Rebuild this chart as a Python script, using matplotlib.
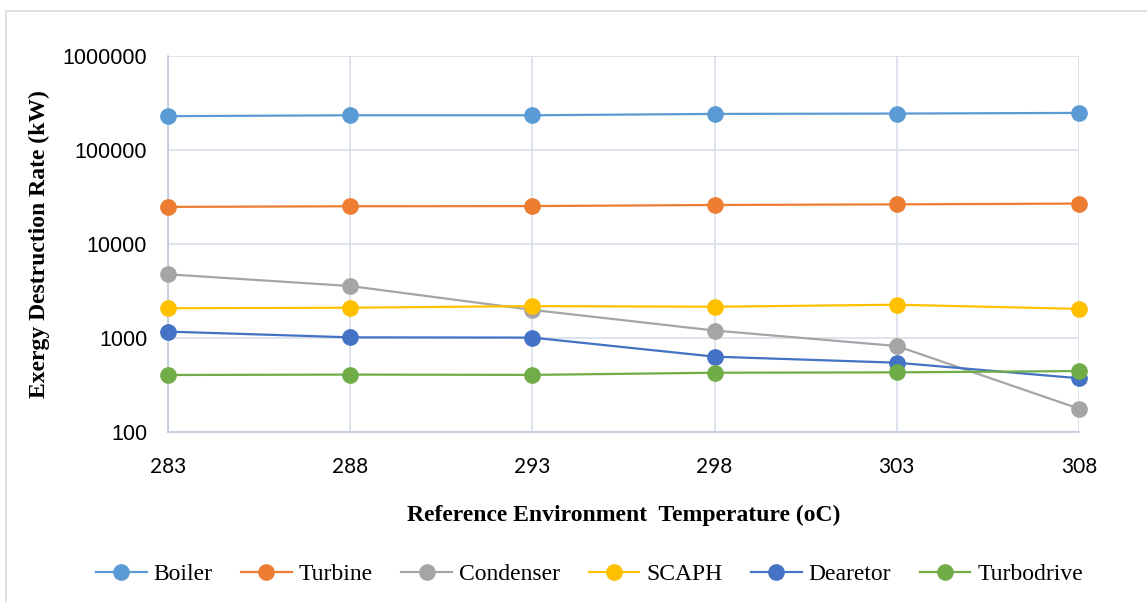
import matplotlib
matplotlib.use('Agg')
import matplotlib.pyplot as plt
from matplotlib.patches import Rectangle

# datos
temps = [283, 288, 293, 298, 303, 308]
boiler = [229000, 234000, 234000, 242000, 244000, 248000]
turbine = [24800, 25200, 25300, 26000, 26400, 26900]
condenser = [4760, 3570, 1990, 1200, 822, 177]
scaph = [2070, 2100, 2185, 2150, 2260, 2040]
dearetor = [1170, 1016, 1010, 633, 546, 373]
turbodrive = [404, 408, 405, 427, 431, 445]

y_ticks = [100, 1000, 10000, 100000, 1000000]
y_tick_labels = ['100', '1000', '10000', '100000', '1000000']

series = [
    ('Boiler', boiler, '#5B9BD5'),
    ('Turbine', turbine, '#ED7D31'),
    ('Condenser', condenser, '#A5A5A5'),
    ('SCAPH', scaph, '#FFC000'),
    ('Dearetor', dearetor, '#4472C4'),
    ('Turbodrive', turbodrive, '#70AD47'),
]

fig = plt.figure(figsize=(11.47, 6.02), dpi=100)
ax = fig.add_axes([0.1465, 0.2824, 0.7942, 0.6246])

for nombre, vals, color in series:
    ax.plot(temps, vals, color=color, lw=1.6, marker='o', ms=11,
            label=nombre, zorder=3, clip_on=False)

ax.set_yscale('log')
ax.set_ylim(100, 1000000)
ax.set_xlim(temps[0], temps[-1])
ax.set_yticks(y_ticks)
ax.set_yticklabels(y_tick_labels)
ax.yaxis.set_minor_locator(matplotlib.ticker.NullLocator())
ax.set_xticks(temps)
ax.set_xticklabels([str(t) for t in temps])

ax.grid(True, color='#D9DEE7', lw=1.2, zorder=0)
for s in ['top', 'right']:
    ax.spines[s].set_visible(False)
for s in ['left', 'bottom']:
    ax.spines[s].set_color('#BFC9D9')
    ax.spines[s].set_linewidth(1.2)
ax.tick_params(axis='y', length=0, labelsize=15.5, pad=15)
ax.tick_params(axis='x', length=0, labelsize=15, pad=18)
for lbl in ax.get_yticklabels():
    lbl.set_fontfamily('Liberation Sans')
for lbl in ax.get_xticklabels():
    lbl.set_fontfamily('Lato')

ax.set_ylabel('Exergy Destruction Rate (kW)', fontfamily='Liberation Serif',
              fontweight='bold', fontsize=17, labelpad=9)
ax.set_xlabel('Reference Environment  Temperature (oC)', fontfamily='Liberation Serif',
              fontweight='bold', fontsize=17, labelpad=20)

fig.legend(loc='center', bbox_to_anchor=(0.514, 0.046), ncol=6, frameon=False,
           prop={'family': 'Liberation Serif', 'size': 17}, handlelength=2.15,
           columnspacing=1.2, handletextpad=0.3)

fig.patches.append(Rectangle((0.005, -0.01), 1.2, 0.992, transform=fig.transFigure,
                             fill=False, edgecolor='#D9D9D9', lw=1.2))

fig.savefig('out.png', dpi=100)
